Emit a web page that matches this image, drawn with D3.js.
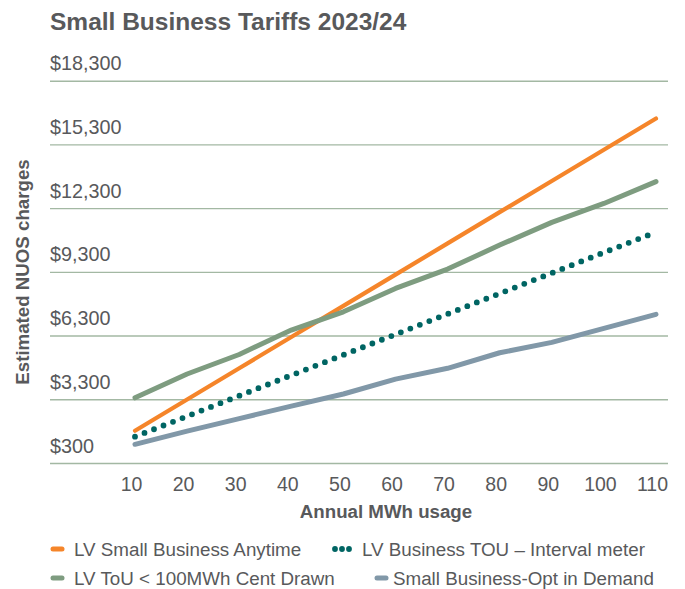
<!DOCTYPE html>
<html>
<head>
<meta charset="utf-8">
<script src="https://cdn.jsdelivr.net/npm/d3@7/dist/d3.min.js"></script>
<style>
  html, body { margin: 0; padding: 0; background: #fff; }
  svg { display: block; font-family: "Liberation Sans", Arial, sans-serif; }
</style>
</head>
<body>
<svg id="chart" width="685" height="589"></svg>
<script>
// ---- data ----
const mwh = [10, 20, 30, 40, 50, 60, 70, 80, 90, 100, 110];
const lvSmallBusinessAnytime = [1820, 3290, 4760, 6230, 7700, 9170, 10640, 12110, 13580, 15050, 16520];
const lvBusinessTouInterval = [1540, 2500, 3465, 4430, 5390, 6355, 7320, 8280, 9245, 10210, 11170];
const lvTouCentDrawn = [3370, 4490, 5410, 6560, 7420, 8520, 9430, 10560, 11630, 12520, 13550];
const smallBusinessOptDemand = [1180, 1800, 2390, 2980, 3550, 4250, 4760, 5490, 5980, 6640, 7300];
const yTickValues = [300, 3300, 6300, 9300, 12300, 15300, 18300];
const seriesNames = [
  "LV Small Business Anytime",
  "LV Business TOU \u2013 Interval meter",
  "LV ToU < 100MWh Cent Drawn",
  "Small Business-Opt in Demand"
];

const textColor = "#58595b";
const svg = d3.select("#chart");

const x = d3.scaleLinear().domain([10, 110]).range([135, 656]);
const y = d3.scaleLinear().domain([300, 18300]).range([463, 80.7]);

// title
svg.append("text")
  .attr("x", 50).attr("y", 30)
  .attr("fill", textColor)
  .attr("font-size", 24.5).attr("font-weight", "bold")
  .text("Small Business Tariffs 2023/24");

// y axis with gridlines
const yAxis = svg.append("g")
  .attr("transform", "translate(50,0)")
  .call(d3.axisLeft(y).tickValues(yTickValues).tickSize(-618)
        .tickFormat(d => "$" + d3.format(",")(d)));
yAxis.select(".domain").remove();
yAxis.selectAll(".tick line").attr("stroke", "#a3b8a3").attr("stroke-width", 1.4);
yAxis.selectAll(".tick text")
  .attr("x", 0).attr("dy", null).attr("y", -11)
  .attr("text-anchor", "start")
  .attr("fill", textColor)
  .attr("font-size", 19.8)
  .attr("font-family", "'Liberation Sans', Arial, sans-serif");

// x axis
const xAxis = svg.append("g")
  .attr("transform", "translate(0,463)")
  .call(d3.axisBottom(x).tickValues(mwh).tickSize(0).tickFormat(d3.format("d")));
xAxis.select(".domain").remove();
xAxis.selectAll(".tick text")
  .attr("y", 21).attr("dy", "0.36em").attr("x", -4)
  .attr("fill", textColor)
  .attr("font-size", 19.5)
  .attr("font-family", "'Liberation Sans', Arial, sans-serif");

// axis titles
svg.append("text")
  .attr("x", 386).attr("y", 518)
  .attr("text-anchor", "middle")
  .attr("fill", textColor).attr("font-size", 18.7).attr("font-weight", "bold")
  .text("Annual MWh usage");

svg.append("text")
  .attr("transform", "translate(29,272) rotate(-90)")
  .attr("text-anchor", "middle")
  .attr("fill", textColor).attr("font-size", 18.7).attr("font-weight", "bold")
  .text("Estimated NUOS charges");

// lines
const series = [
  { name: seriesNames[0], values: lvSmallBusinessAnytime, color: "#f5852a", width: 4.2, dash: null },
  { name: seriesNames[2], values: lvTouCentDrawn, color: "#7e9c80", width: 5, dash: null },
  { name: seriesNames[3], values: smallBusinessOptDemand, color: "#8198a8", width: 5, dash: null },
  { name: seriesNames[1], values: lvBusinessTouInterval, color: "#006563", width: 5.8, dash: "0 10.2" }
];

const line = d3.line().x((d, i) => x(mwh[i])).y(d => y(d));

svg.append("g").selectAll("path")
  .data(series)
  .join("path")
  .attr("d", s => line(s.values))
  .attr("fill", "none")
  .attr("stroke", s => s.color)
  .attr("stroke-width", s => s.width)
  .attr("stroke-linecap", "round")
  .attr("stroke-linejoin", "round")
  .attr("stroke-dasharray", s => s.dash);

// legend
const legendItems = [
  { name: seriesNames[0], color: "#f5852a", dots: false, mx: 51, tx: 74, ly: 549 },
  { name: seriesNames[1], color: "#006563", dots: true, mx: 335, tx: 362, ly: 549 },
  { name: seriesNames[2], color: "#7e9c80", dots: false, mx: 51, tx: 74, ly: 578 },
  { name: seriesNames[3], color: "#8198a8", dots: false, mx: 375, tx: 393, ly: 578 }
];
const lg = svg.append("g");
legendItems.forEach(it => {
  if (it.dots) {
    [0, 7, 14].forEach(dx => {
      lg.append("circle").attr("cx", it.mx + dx).attr("cy", it.ly).attr("r", 2.9).attr("fill", it.color);
    });
  } else {
    lg.append("line")
      .attr("x1", it.mx + 2).attr("x2", it.mx + 11)
      .attr("y1", it.ly).attr("y2", it.ly)
      .attr("stroke", it.color).attr("stroke-width", 5).attr("stroke-linecap", "round");
  }
  lg.append("text")
    .attr("x", it.tx).attr("y", it.ly).attr("dy", "0.35em")
    .attr("fill", textColor).attr("font-size", 18.8)
    .text(it.name);
});
</script>
</body>
</html>
